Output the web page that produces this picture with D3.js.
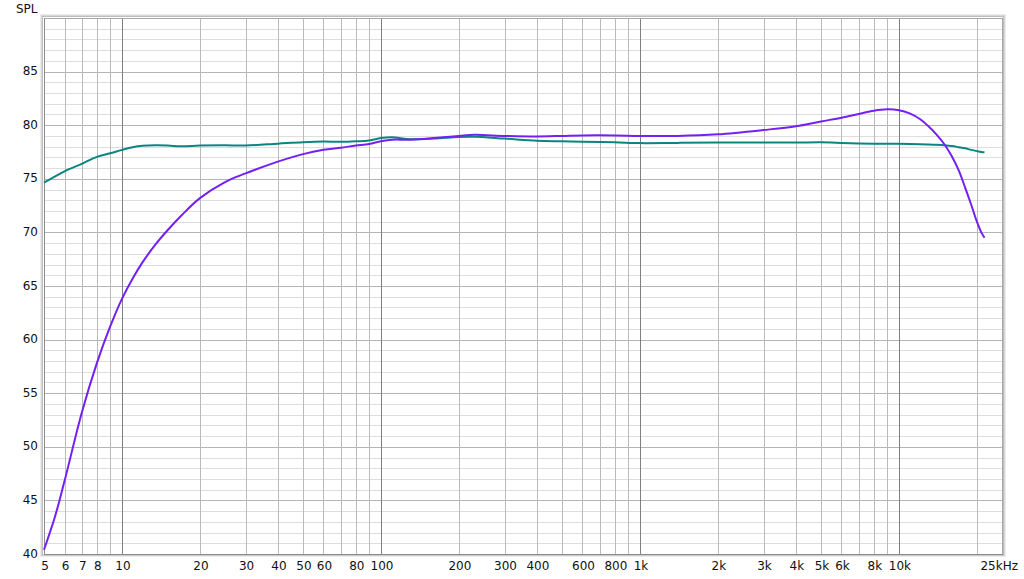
<!DOCTYPE html>
<html lang="en">
<head>
    <meta charset="UTF-8">
    <title>SPL</title>
    <style>
        html, body { margin: 0; padding: 0; background: #fff; }
        svg { display: block; }
        text { font-family: "DejaVu Sans", sans-serif; font-size: 12px; fill: #111; }
    </style>
</head>
<body>
    <div id="chart"></div>

    <script src="https://d3js.org/d3.v7.min.js"></script>
    <script>
        // frequency points (Hz)
        const freqs = [5, 5.5, 6, 7, 8, 9, 10, 11, 12, 13.5, 15, 17, 20, 25, 30, 40, 50, 60, 70, 80, 90,
            100, 110, 130, 160, 200, 230, 300, 400, 500, 600, 800, 1000, 1400, 2000, 3000, 4000, 5000,
            6000, 7000, 8000, 9000, 10000, 11000, 12000, 13000, 14000, 15000, 16000, 17000, 18000,
            19000, 20000, 20800, 21400]

        const tealSpl = [74.65, 75.2, 75.7, 76.4, 77.05, 77.38, 77.7, 77.95, 78.08, 78.12, 78.1, 78.03, 78.1,
            78.12, 78.1, 78.28, 78.42, 78.48, 78.45, 78.5, 78.58, 78.8, 78.87, 78.7, 78.75, 78.9, 78.92,
            78.75, 78.55, 78.5, 78.45, 78.4, 78.33, 78.35, 78.38, 78.38, 78.38, 78.4, 78.35, 78.3, 78.28,
            78.27, 78.27, 78.25, 78.22, 78.2, 78.17, 78.12, 78.05, 77.95, 77.85, 77.7, 77.58, 77.5, 77.47]

        const purpleSpl = [40.4, 43.4, 46.8, 53.2, 57.8, 61.2, 63.8, 65.7, 67.2, 68.9, 70.2, 71.6, 73.2,
            74.7, 75.5, 76.6, 77.3, 77.7, 77.9, 78.1, 78.25, 78.5, 78.65, 78.65, 78.8, 79.0, 79.1,
            79.0, 78.95, 79.0, 79.05, 79.05, 79.0, 79.0, 79.15, 79.55, 79.9, 80.35, 80.7, 81.05, 81.35,
            81.48, 81.4, 81.1, 80.6, 79.9, 79.1, 78.2, 77.1, 75.8, 74.2, 72.6, 71.0, 70.0, 69.5]

        const yTicks = [40, 45, 50, 55, 60, 65, 70, 75, 80, 85]
        const xTickValues = [5, 6, 7, 8, 10, 20, 30, 40, 50, 60, 80, 100, 200, 300, 400, 600, 800,
            1000, 2000, 3000, 4000, 5000, 6000, 8000, 10000]
        const xTickLabels = ['5', '6', '7', '8', '10', '20', '30', '40', '50', '60', '80', '100', '200',
            '300', '400', '600', '800', '1k', '2k', '3k', '4k', '5k', '6k', '8k', '10k']

        const width = 1024
        const height = 579
        const pLeft = 44, pRight = 1002, pTop = 18, pBottom = 554

        const x = d3.scaleLog().domain([5, 25000]).range([pLeft, pRight])
        const y = d3.scaleLinear().domain([40, 90]).range([pBottom, pTop])

        const svg = d3.select('#chart')
            .append('svg')
            .attr('width', width)
            .attr('height', height)

        // frame shadow
        const frame = svg.append('g').attr('fill', 'none')
        frame.append('rect').attr('x', pLeft - 3.5).attr('y', pTop - 3.5)
            .attr('width', pRight - pLeft + 7).attr('height', pBottom - pTop + 6)
            .attr('stroke', '#ececec').attr('stroke-width', 1)
        frame.append('rect').attr('x', pLeft - 2.5).attr('y', pTop - 2.5)
            .attr('width', pRight - pLeft + 5).attr('height', pBottom - pTop + 4)
            .attr('stroke', '#d8d8d8').attr('stroke-width', 1)
        frame.append('rect').attr('x', pLeft - 1.5).attr('y', pTop - 1.5)
            .attr('width', pRight - pLeft + 3).attr('height', pBottom - pTop + 2.5)
            .attr('stroke', '#bdbdbd').attr('stroke-width', 1)

        const grid = svg.append('g').attr('shape-rendering', 'crispEdges')

        // horizontal grid, 1 dB minor, 5 dB major
        d3.range(41, 90).forEach(v => {
            grid.append('line')
                .attr('x1', pLeft).attr('x2', pRight)
                .attr('y1', Math.round(y(v)) + 0.5).attr('y2', Math.round(y(v)) + 0.5)
                .attr('stroke', v % 5 === 0 ? '#b4b4b4' : '#dedede')
        })

        // vertical grid
        const vLines = []
        for (let d = 1; d <= 10000; d *= 10) {
            for (let m = 1; m <= 9; m++) {
                const f = d * m
                if (f > 5 && f < 25000) vLines.push(f)
            }
        }
        vLines.forEach(f => {
            const decade = Math.abs(Math.log10(f) - Math.round(Math.log10(f))) < 1e-9
            grid.append('line')
                .attr('x1', Math.round(x(f)) + 0.5).attr('x2', Math.round(x(f)) + 0.5)
                .attr('y1', pTop).attr('y2', pBottom)
                .attr('stroke', decade ? '#7f7f7f' : '#bababa')
        })

        // plot border
        svg.append('rect')
            .attr('x', pLeft + 0.5).attr('y', pTop + 0.5)
            .attr('width', pRight - pLeft).attr('height', pBottom - pTop)
            .attr('fill', 'none')
            .attr('stroke', '#a8a8a8')
            .attr('shape-rendering', 'crispEdges')
        svg.append('line')
            .attr('x1', pLeft + 0.5).attr('x2', pLeft + 0.5)
            .attr('y1', pTop).attr('y2', pBottom + 1)
            .attr('stroke', '#8c8c8c').attr('stroke-width', 1)
        svg.append('line')
            .attr('x1', pLeft).attr('x2', pRight + 1)
            .attr('y1', pBottom + 0.5).attr('y2', pBottom + 0.5)
            .attr('stroke', '#8c8c8c').attr('stroke-width', 1)

        // curves
        const line = d3.line()
            .x((d, i) => x(freqs[i]))
            .y(d => y(d))
            .curve(d3.curveCatmullRom.alpha(0.5))

        svg.append('path')
            .datum(tealSpl)
            .attr('fill', 'none')
            .attr('stroke', '#0b8580')
            .attr('stroke-width', 2)
            .attr('d', line)

        svg.append('path')
            .datum(purpleSpl)
            .attr('fill', 'none')
            .attr('stroke', '#7420f2')
            .attr('stroke-width', 2)
            .attr('d', line)

        // y labels
        svg.append('g').selectAll('text')
            .data(yTicks)
            .enter()
            .append('text')
            .attr('x', 38)
            .attr('y', d => y(d))
            .attr('text-anchor', 'end')
            .attr('dominant-baseline', 'middle')
            .text(d => d)

        svg.append('text')
            .attr('x', 16).attr('y', 9)
            .attr('dominant-baseline', 'middle')
            .text('SPL')

        // x labels
        svg.append('g').selectAll('text')
            .data(xTickValues)
            .enter()
            .append('text')
            .attr('x', d => x(d) + 1)
            .attr('y', 566)
            .attr('text-anchor', 'middle')
            .attr('dominant-baseline', 'middle')
            .text((d, i) => xTickLabels[i])

        svg.append('text')
            .attr('x', 1018).attr('y', 566)
            .attr('text-anchor', 'end')
            .attr('dominant-baseline', 'middle')
            .text('25kHz')
    </script>
</body>
</html>
